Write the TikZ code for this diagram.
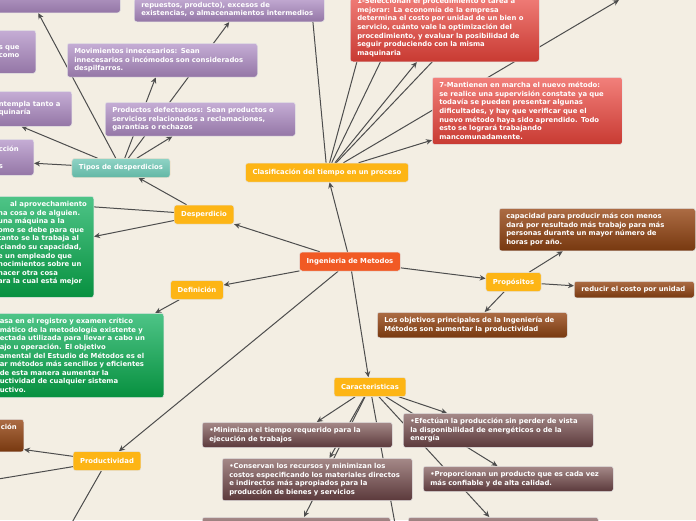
\documentclass[tikz,border=0pt]{standalone}
\usepackage{fontspec}
\setmainfont{DejaVu Sans}
\usepackage{tikz}
\usetikzlibrary{arrows.meta,positioning,calc}
\usepackage{xcolor}
\pgfdeclarelayer{bg}
\pgfdeclarelayer{links}
\pgfsetlayers{bg,links,main}
\definecolor{paper}{HTML}{F3EEE3}
\definecolor{linkgray}{HTML}{4D4D4D}
\definecolor{rootred}{HTML}{F15A24}
\definecolor{topicyel}{HTML}{FDB515}
\definecolor{tealtop}{HTML}{8FD3C5}
\definecolor{tealbot}{HTML}{62B7A5}
\definecolor{lilatop}{HTML}{C5ADD5}
\definecolor{lilabot}{HTML}{9476A6}
\definecolor{rojotop}{HTML}{F2807B}
\definecolor{rojobot}{HTML}{C83A32}
\definecolor{verdetop}{HTML}{4EC487}
\definecolor{verdebot}{HTML}{07903F}
\definecolor{cafetop}{HTML}{AC6C44}
\definecolor{cafebot}{HTML}{77380F}
\definecolor{malvatop}{HTML}{A58988}
\definecolor{malvabot}{HTML}{5B393B}

\begin{document}
\begin{tikzpicture}[x=1pt, y=-1pt, every node/.style={font=\fontsize{6.85}{8.6}\selectfont\bfseries, text=white}]
\tikzset{box/.style={rounded corners=2.5pt, draw=white!80!gray, line width=0.5pt, inner xsep=7pt, inner ysep=5pt, align=left}}
\tikzset{topic/.style={box, fill=topicyel, minimum height=19pt, inner xsep=7pt}}
\tikzset{root/.style={topic, fill=rootred}}
\tikzset{tipo/.style={topic, top color=tealtop, bottom color=tealbot}}
\tikzset{lila/.style={box, top color=lilatop, bottom color=lilabot}}
\tikzset{rojo/.style={box, top color=rojotop, bottom color=rojobot}}
\tikzset{verde/.style={box, top color=verdetop, bottom color=verdebot}}
\tikzset{cafe/.style={box, top color=cafetop, bottom color=cafebot}}
\tikzset{malva/.style={box, top color=malvatop, bottom color=malvabot}}
\tikzset{link/.style={draw=linkgray, line width=1pt, -{Stealth[length=6pt,width=5.5pt]}}}

\useasboundingbox (0,0) rectangle (696,520);
\begin{pgfonlayer}{bg}
\fill[paper] (0,0) rectangle (696,520);
\end{pgfonlayer}

% centre and topics
\node[root] (ing) at (350,261.5) {Ingenieria de Metodos};
\node[topic] (clas) at (327,172.5) {Clasificación del tiempo en un proceso};
\node[tipo] (tipos) at (121,168) {Tipos de desperdicios};
\node[topic] (desp) at (204,214.5) {Desperdicio};
\node[topic] (defi) at (197,290) {Definición};
\node[topic] (prop) at (513.5,282) {Propósitos};
\node[topic] (cara) at (370,387) {Caracteristicas};
\node[topic] (prod) at (107,461) {Productividad};

% tipos de desperdicios
\node[lila, anchor=south west, minimum width=130pt, minimum height=30pt] (mal1) at (-10,13) {};
\node[lila, anchor=south west, text width=176pt] (exce) at (134,22) {repuestos, producto), excesos de\\existencias, o almacenamientos intermedios};
\node[lila, anchor=north east, text width=30pt, minimum height=43pt] (mal3) at (36,30) {s que\\como};
\node[lila, anchor=north west, text width=176pt] (movi) at (67,43) {Movimientos innecesarios: Sean\\innecesarios o incómodos son considerados\\despilfarros.};
\node[lila, anchor=north east, text width=66pt, minimum height=35pt] (maqu) at (72,91) {ntempla tanto a\\quinaría};
\node[lila, anchor=north west, text width=176pt] (defe) at (105,102) {Productos defectuosos: Sean productos o\\servicios relacionados a reclamaciones,\\garantías o rechazos};
\node[lila, anchor=north east, text width=28pt, minimum height=36pt] (pred) at (34,139) {cción\\[8.6pt]s};

% clasificacion
\node[rojo, anchor=south west, text width=175pt] (sele) at (350,62) {1-Seleccionan el procedimiento o tarea a\\mejorar: La economía de la empresa\\determina el costo por unidad de un bien o\\servicio, cuánto vale la optimización del\\procedimiento, y evaluar la posibilidad de\\seguir produciendo con la misma\\maquinaria};
\node[rojo, anchor=north west, text width=176pt] (mant) at (432,77) {7-Mantienen en marcha el nuevo método:\\se realice una supervisión constate ya que\\todavía se pueden presentar algunas\\dificultades, y hay que verificar que el\\nuevo método haya sido aprendido. Todo\\esto se logrará trabajando\\mancomunadamente.};

% desperdicio, definicion
\node[verde, anchor=north east] (apro) at (94,196) {\hspace*{12pt}al aprovechamiento\\na cosa o de alguien.\\ una máquina a la\\omo se debe para que\\ tanto se la trabaja al\\iciando su capacidad,\\e un empleado que\\nocimientos sobre un\\hacer otra cosa\\ara la cual está mejor\\~};
\node[verde, anchor=north east, text width=157pt] (regi) at (164,313) {asa en el registro y examen crítico\\mático de la metodología existente y\\ectada utilizada para llevar a cabo un\\ajo u operación. El objetivo\\amental del Estudio de Métodos es el\\ar métodos más sencillos y eficientes\\ de esta manera aumentar la\\uctividad de cualquier sistema\\uctivo.};

% propositos, productividad
\node[cafe, anchor=north west, text width=182pt] (capa) at (499,208) {capacidad para producir más con menos\\dará por resultado más trabajo para más\\personas durante un mayor número de\\horas por año.};
\node[cafe, anchor=north west, text width=106pt] (redu) at (574,281) {reducir el costo por unidad};
\node[cafe, anchor=north west, text width=176pt] (obje) at (377,312) {Los objetivos principales de la Ingeniería de\\Métodos son aumentar la productividad};
\node[cafe, anchor=north east] (efic) at (24,419) {ción\\~\\~};

% caracteristicas
\node[malva, anchor=north west, text width=176pt] (mini) at (202,422) {•Minimizan el tiempo requerido para la\\ejecución de trabajos};
\node[malva, anchor=north west, text width=176pt] (cons) at (222,458) {•Conservan los recursos y minimizan los\\costos especificando los materiales directos\\e indirectos más apropiados para la\\producción de bienes y servicios};
\node[malva, anchor=north west, text width=176pt] (efec) at (403,413) {•Efectúan la producción sin perder de vista\\la disponibilidad de energéticos o de la\\energía};
\node[malva, anchor=north west, text width=176pt] (conf) at (423,466) {•Proporcionan un producto que es cada vez\\más confiable y de alta calidad.};
\node[malva, anchor=north west, minimum width=188pt, minimum height=30pt] (mal5) at (202,517) {};
\node[malva, anchor=north west, minimum width=190pt, minimum height=30pt] (mal6) at (408,517) {};

% free ends outside the page
\coordinate (despx) at (-20,199);
\coordinate (prodl) at (-20,482);
\coordinate (prodd) at (62,540);
\coordinate (carb) at (398,540);
\coordinate (clasr) at (619,0);
\coordinate (clas1) at (309,-20);
\coordinate (clas2) at (379,-20);
\coordinate (clas3) at (420,-20);
\coordinate (clas4) at (510,-20);

\begin{pgfonlayer}{links}
\draw[link] (ing) -- (clas);
\draw[link] (ing) -- (desp);
\draw[link] (ing) -- (defi);
\draw[link] (ing) -- (prod);
\draw[link] (ing) -- (prop);
\draw[link] (ing) -- (cara);
\draw[link] (clas) -- (sele);
\draw[link] (clas) -- (mant);
\draw[link] (clas) -- (clasr);
\draw[link] (clas) -- (clas1);
\draw[link] (clas) -- (clas2);
\draw[link] (clas) -- (clas3);
\draw[link] (clas) -- (clas4);
\draw[link] (desp) -- (tipos);
\draw[link] (desp) -- (apro);
\draw[link] (desp) -- (despx);
\draw[link] (tipos) -- ([xshift=-17pt]mal1.south);
\draw[link] (tipos) -- (exce.south);
\draw[link] (tipos) -- (movi);
\draw[link] (tipos) -- (defe);
\draw[link] (tipos) -- ([xshift=30pt]maqu.south west);
\draw[link] (tipos) -- ([yshift=-6pt]pred.east);
\draw[link] (defi) -- (regi);
\draw[link] (prop) -- (capa);
\draw[link] (prop) -- (redu);
\draw[link] (prop) -- (obje);
\draw[link] (prod) -- ([yshift=-14pt]efic.east);
\draw[link] (prod) -- (prodl);
\draw[link] (prod) -- (prodd);
\draw[link] (cara) -- (mini);
\draw[link] (cara) -- (cons);
\draw[link] (cara) -- (mal5);
\draw[link] (cara) -- (carb);
\draw[link] (cara) -- (efec);
\draw[link] (cara) -- (conf);
\draw[link] (cara) -- (mal6);
\end{pgfonlayer}
\end{tikzpicture}
\end{document}
